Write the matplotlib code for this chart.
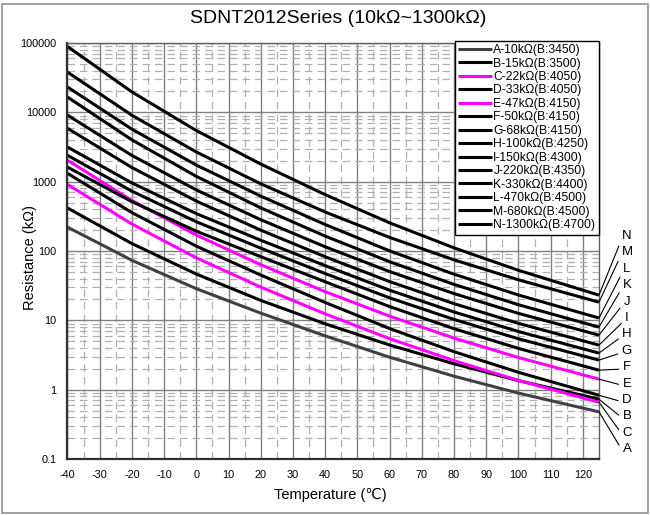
import numpy as np
import matplotlib.pyplot as plt
from matplotlib.ticker import FixedLocator, NullFormatter
from matplotlib.patches import Rectangle

plt.rcParams['font.family'] = ['Liberation Sans', 'DejaVu Sans']
plt.rcParams['axes.unicode_minus'] = False

# Temperatura (C) e resistencias (kOhm)
temps = [-40, -20, 0, 20, 40, 60, 80, 100, 125]

res_A = [221, 73.4, 28.6, 12.7, 5.97, 2.94, 1.565, 0.892, 0.479]
res_B = [417, 128, 46.5, 19.4, 8.91, 4.41, 2.36, 1.35, 0.73]
res_C = [912, 245, 79.7, 30.2, 12.4, 5.45, 2.62, 1.36, 0.66]
res_D = [1320, 358, 117.5, 45.0, 18.1, 7.62, 3.53, 1.78, 0.83]
res_E = [2040, 535, 170, 63.4, 25.9, 11.5, 5.55, 2.91, 1.42]
res_F = [1620, 515, 193, 82.9, 36.0, 15.8, 7.58, 3.94, 1.91]
res_G = [2400, 729, 264, 110, 47.3, 21.1, 10.3, 5.42, 2.67]
res_H = [3160, 958, 346, 143, 61.5, 27.2, 13.2, 6.90, 3.37]
res_I = [5890, 1600, 525, 200, 82.6, 36.2, 17.4, 9.05, 4.39]
res_J = [9120, 2390, 760, 283, 115, 50.5, 24.3, 12.6, 6.12]
res_K = [16600, 4010, 1193, 419, 164, 70.0, 33.0, 16.8, 7.98]
res_L = [23200, 5720, 1735, 619, 241, 100.5, 46.3, 23.2, 10.8]
res_M = [38000, 9080, 2680, 931, 365, 157, 74.6, 38.4, 18.3]
res_N = [89000, 19700, 5460, 1795, 650, 255, 111, 52.7, 23.1]

letters = ['A', 'B', 'C', 'D', 'E', 'F', 'G', 'H', 'I', 'J', 'K', 'L', 'M', 'N']
names = ['A-10kΩ(B:3450)', 'B-15kΩ(B:3500)', 'C-22kΩ(B:4050)', 'D-33kΩ(B:4050)',
         'E-47kΩ(B:4150)', 'F-50kΩ(B:4150)', 'G-68kΩ(B:4150)', 'H-100kΩ(B:4250)',
         'I-150kΩ(B:4300)', 'J-220kΩ(B:4350)', 'K-330kΩ(B:4400)', 'L-470kΩ(B:4500)',
         'M-680kΩ(B:4500)', 'N-1300kΩ(B:4700)']
series = [res_A, res_B, res_C, res_D, res_E, res_F, res_G,
          res_H, res_I, res_J, res_K, res_L, res_M, res_N]
colors = ['#404040', 'black', '#ff00ff', 'black', '#ff00ff', 'black', 'black',
          'black', 'black', 'black', 'black', 'black', 'black', 'black']

# ordem das letras na direita (de cima para baixo)
right_order = ['N', 'M', 'L', 'K', 'J', 'I', 'H', 'G', 'F', 'E', 'D', 'B', 'C', 'A']

xticks = list(range(-40, 121, 10))
yticks = [0.1, 1, 10, 100, 1000, 10000, 100000]
ytick_labels = ['0.1', '1', '10', '100', '1000', '10000', '100000']

fig = plt.figure(figsize=(6.5, 5.15), dpi=100)
ax = fig.add_axes([0.1038, 0.1087, 0.8177, 0.8078])

for vals, name, col in zip(series, names, colors):
    ax.plot(temps, vals, color=col, lw=2.2, label=name, solid_capstyle='butt')

ax.set_yscale('log')
ax.set_xlim(-40, 125)
ax.set_ylim(0.1, 100000)

ax.xaxis.set_major_locator(FixedLocator(xticks))
ax.xaxis.set_minor_locator(FixedLocator(list(range(-35, 125, 10))))
ax.yaxis.set_major_locator(FixedLocator(yticks))
ax.set_yticklabels(ytick_labels)
ax.yaxis.set_minor_formatter(NullFormatter())
ax.tick_params(which='both', direction='in', length=0, labelsize=7.8, pad=8)

# grade principal e secundaria
ax.grid(which='major', color='#808080', lw=1.0)
ax.grid(which='minor', color='#b0b0b0', lw=0.9, linestyle=(0, (6, 4)))
ax.set_axisbelow(True)

for side in ['left', 'bottom']:
    ax.spines[side].set_linewidth(1.6)
    ax.spines[side].set_color('#303030')
for side in ['top', 'right']:
    ax.spines[side].set_linewidth(1.0)
    ax.spines[side].set_color('#606060')

leg = ax.legend(loc='upper right', bbox_to_anchor=(1.0, 1.006), borderaxespad=0,
                fontsize=8.7, handlelength=2.8, handletextpad=0.1, labelspacing=0.12,
                borderpad=0.3, fancybox=False, framealpha=1, edgecolor='black')
leg.get_frame().set_linewidth(1.0)

# letras com linhas de chamada na direita
for i, letter in enumerate(right_order):
    vals = series[letters.index(letter)]
    y_px = 236 + i * 16.4
    ax.annotate(letter, xy=(temps[-1], vals[-1]), xycoords='data',
                xytext=(627 / 650, 1 - y_px / 515), textcoords='figure fraction',
                ha='center', va='center', fontsize=9.5, annotation_clip=False,
                arrowprops=dict(arrowstyle='-', color='black', lw=0.8,
                                shrinkA=1, shrinkB=0, relpos=(0, 0.35)))

fig.text(0.52, 0.965, 'SDNT2012Series (10kΩ~1300kΩ)', ha='center', va='center', fontsize=14)
fig.text(0.046, 0.5, 'Resistance (kΩ)', rotation=90, ha='center', va='center', fontsize=10.5)
fig.text(0.508, 0.039, 'Temperature (℃)', ha='center', va='center', fontsize=10.5)

# moldura externa
fig.patches.append(Rectangle((0.003, 0.004), 0.994, 0.988, transform=fig.transFigure,
                             fill=False, edgecolor='#909090', lw=1.2))

fig.savefig('out.png', dpi=100)
